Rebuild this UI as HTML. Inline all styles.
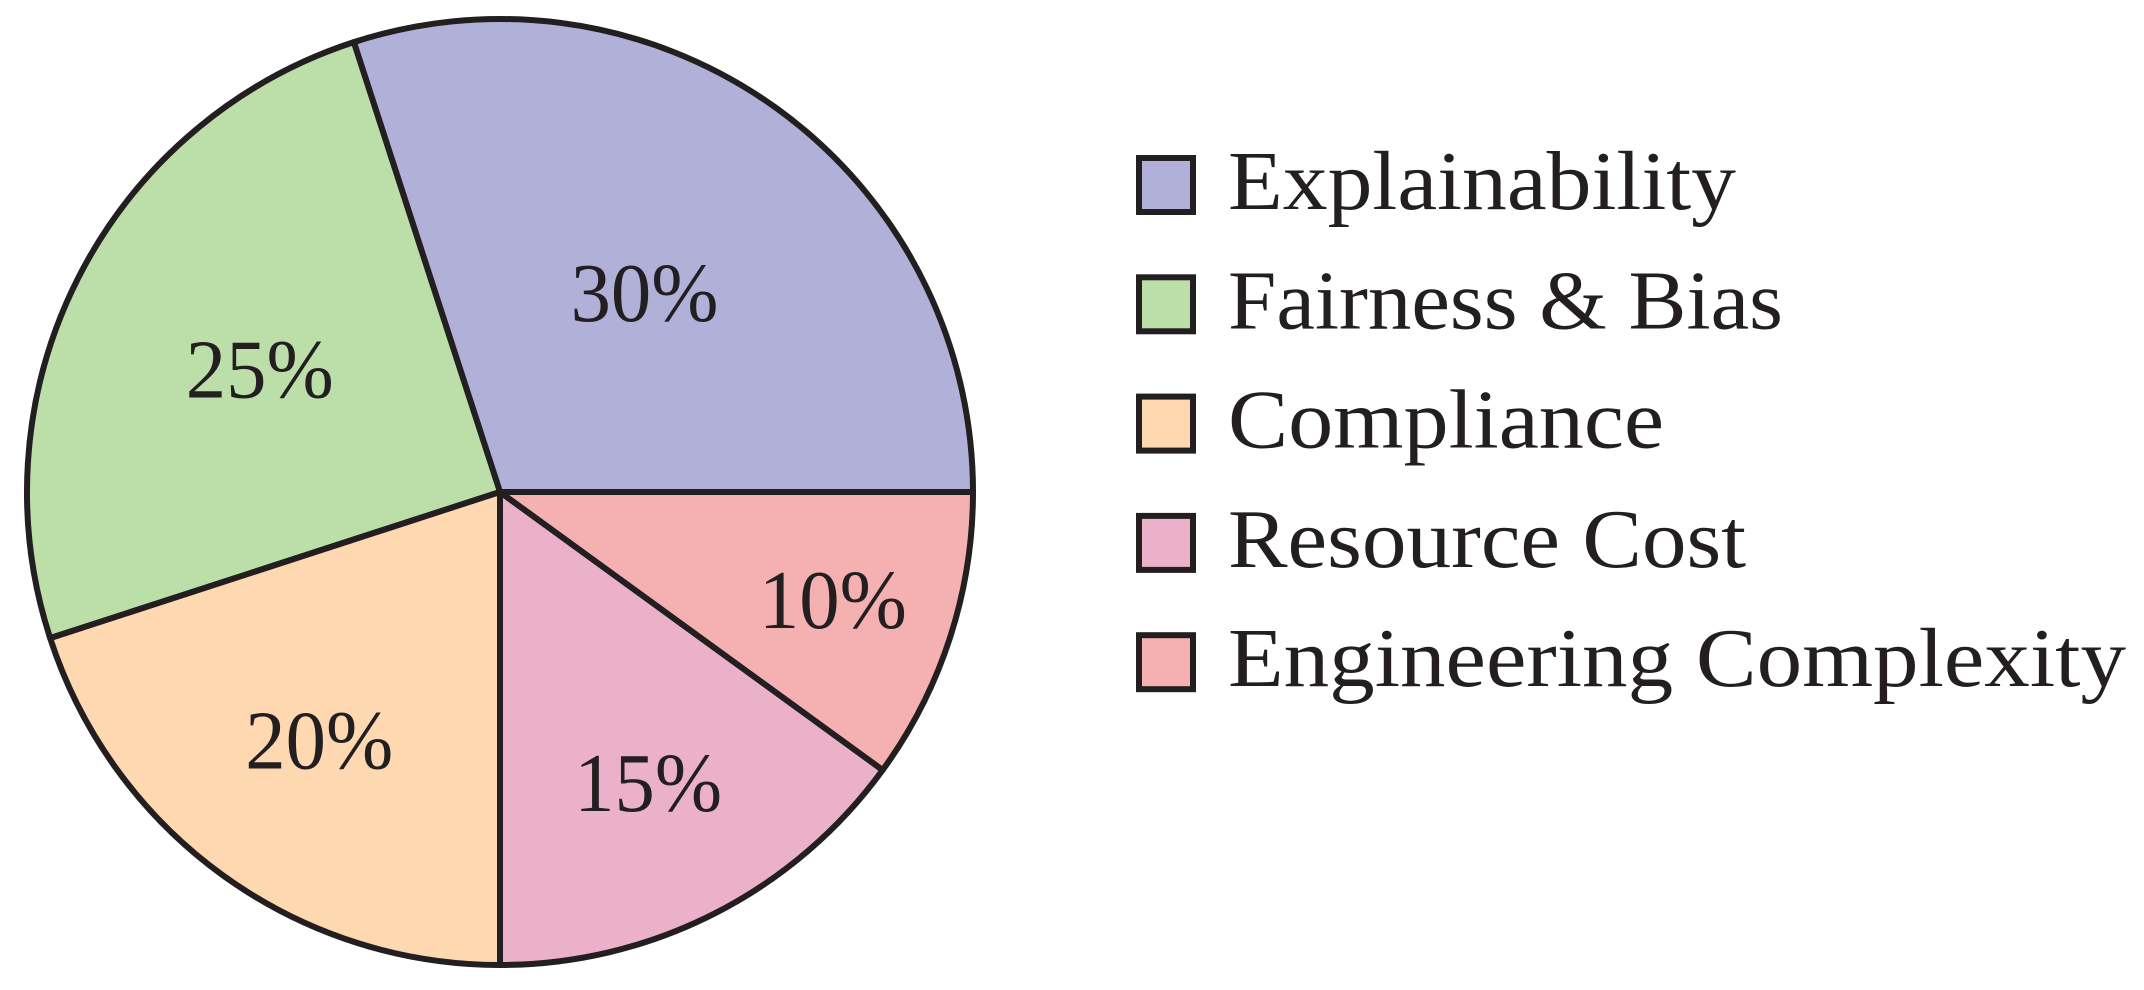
<!DOCTYPE html>
<html><head><meta charset="utf-8">
<style>
html,body{margin:0;padding:0;background:#fff;}
svg{display:block;}
text{font-family:"Liberation Serif",serif;fill:#231f20;}
</style></head>
<body>
<svg id="chart" width="2144" height="990" viewBox="0 0 2144 990" xmlns="http://www.w3.org/2000/svg">
<g id="slices"></g>
<g id="labels"></g>
<g id="legend"></g>
</svg>
<script>
const categories = ["Explainability", "Fairness & Bias", "Compliance", "Resource Cost", "Engineering Complexity"];
const values = [30, 25, 20, 15, 10];
const valueLabels = ["30%", "25%", "20%", "15%", "10%"];
const colors = ["#b1b0d9", "#bcdea9", "#fdd8b1", "#ebb1c9", "#f5b0b1"];
const labelRadius = [0.52, 0.57, 0.65, 0.69, 0.74];

const NS = "http://www.w3.org/2000/svg";
const cx = 500, cy = 492, R = 473;
const total = values.reduce((a, b) => a + b, 0);
const slicesG = document.getElementById("slices");
const labelsG = document.getElementById("labels");
const legendG = document.getElementById("legend");

function pt(angDeg, r) {
  const a = angDeg * Math.PI / 180;
  return [cx + r * Math.cos(a), cy - r * Math.sin(a)];
}

let start = 0;
values.forEach((v, i) => {
  const sweep = v / total * 360;
  const end = start + sweep;
  const p1 = pt(start, R), p2 = pt(end, R);
  const large = sweep > 180 ? 1 : 0;
  const path = document.createElementNS(NS, "path");
  path.setAttribute("d", `M${cx},${cy} L${p1[0]},${p1[1]} A${R},${R} 0 ${large} 0 ${p2[0]},${p2[1]} Z`);
  path.setAttribute("fill", colors[i]);
  path.setAttribute("stroke", "#231f20");
  path.setAttribute("stroke-width", "6");
  path.setAttribute("stroke-linejoin", "round");
  
  
  slicesG.appendChild(path);

  const mid = start + sweep / 2;
  const lp = pt(mid, R * labelRadius[i]);
  const t = document.createElementNS(NS, "text");
  t.setAttribute("x", lp[0]);
  t.setAttribute("y", lp[1] + 28);
  t.setAttribute("text-anchor", "middle");
  t.setAttribute("font-size", "84");
  t.setAttribute("textLength", "148");
  t.setAttribute("lengthAdjust", "spacingAndGlyphs");
  t.textContent = valueLabels[i];
  
  
  labelsG.appendChild(t);
  start = end;
});

const legendWidths = [508, 555, 436, 518, 898];
categories.forEach((c, i) => {
  const y = 185 + i * 119.3;
  const g = document.createElementNS(NS, "g");
  
  
  const r = document.createElementNS(NS, "rect");
  r.setAttribute("x", 1139); r.setAttribute("y", y - 27);
  r.setAttribute("width", 54); r.setAttribute("height", 54);
  r.setAttribute("fill", colors[i]);
  r.setAttribute("stroke", "#231f20");
  r.setAttribute("stroke-width", "6");
  
  
  g.appendChild(r);
  const t = document.createElementNS(NS, "text");
  t.setAttribute("x", 1228); t.setAttribute("y", y + 24);
  t.setAttribute("font-size", "84");
  t.setAttribute("textLength", legendWidths[i]);
  t.setAttribute("lengthAdjust", "spacingAndGlyphs");
  t.textContent = c;
  
  
  g.appendChild(t);
  legendG.appendChild(g);
});
</script>
</body></html>
